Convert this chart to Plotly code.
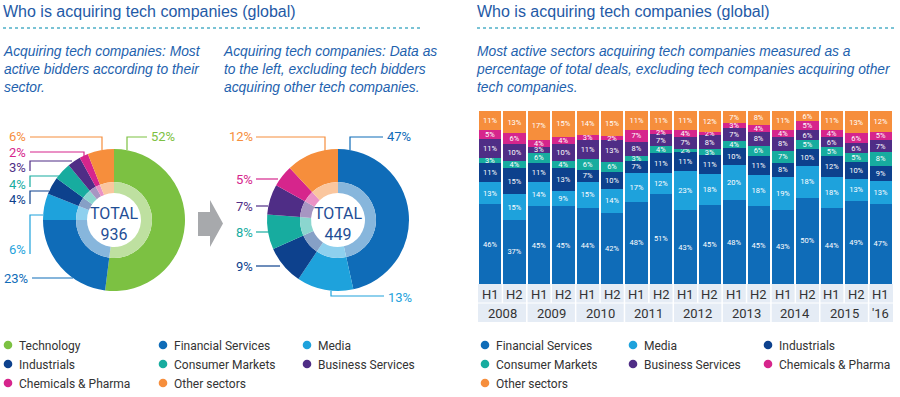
import plotly.graph_objects as go

W, H = 900, 397

# ---------------- data ----------------
all_labels = ["Technology", "Financial Services", "Media", "Industrials",
              "Consumer Markets", "Business Services", "Chemicals & Pharma", "Other sectors"]
all_values = [52, 23, 6, 4, 4, 3, 2, 6]
all_total = 936

excl_labels = ["Financial Services", "Media", "Industrials", "Consumer Markets",
               "Business Services", "Chemicals & Pharma", "Other sectors"]
excl_values = [47, 13, 9, 8, 7, 5, 12]
excl_total = 449

periods = ["2008 H1", "2008 H2", "2009 H1", "2009 H2", "2010 H1", "2010 H2",
           "2011 H1", "2011 H2", "2012 H1", "2012 H2", "2013 H1", "2013 H2",
           "2014 H1", "2014 H2", "2015 H1", "2015 H2", "2016 H1"]
half_labels = ["H1", "H2"] * 8 + ["H1"]
year_labels = ["2008", "2009", "2010", "2011", "2012", "2013", "2014", "2015", "'16"]

fin = [46, 37, 45, 45, 44, 42, 48, 51, 43, 45, 48, 45, 43, 50, 44, 49, 47]
media = [13, 15, 14, 9, 15, 14, 17, 12, 23, 18, 20, 18, 19, 18, 18, 13, 13]
ind = [11, 15, 11, 13, 7, 10, 7, 11, 11, 11, 10, 11, 8, 10, 12, 10, 9]
cons = [3, 4, 6, 4, 6, 6, 3, 4, 2, 3, 4, 6, 7, 5, 5, 5, 8]
bus = [11, 10, 3, 10, 11, 13, 8, 7, 7, 8, 7, 8, 8, 6, 6, 6, 7]
chem = [5, 6, 4, 4, 3, 2, 7, 2, 4, 2, 3, 4, 4, 5, 4, 6, 5]
other = [11, 13, 17, 15, 14, 15, 11, 11, 11, 12, 7, 8, 11, 6, 11, 13, 12]

bar_series = [("Financial Services", fin), ("Media", media), ("Industrials", ind),
              ("Consumer Markets", cons), ("Business Services", bus),
              ("Chemicals & Pharma", chem), ("Other sectors", other)]

# ---------------- styles ----------------
COL = {
    "Technology": "#7cc142",
    "Financial Services": "#0f6cb8",
    "Media": "#1ea2dc",
    "Industrials": "#0d418d",
    "Consumer Markets": "#17ac9f",
    "Business Services": "#4f2d86",
    "Chemicals & Pharma": "#d6258c",
    "Other sectors": "#f68e3c",
}
TITLE_C = "#1f5aa6"
SUB_C = "#1e62ae"
NARROW = "Roboto, Liberation Sans, sans-serif"
SANS = "Liberation Sans, Arial, sans-serif"


def tint(hexc, f=0.5):
    hexc = hexc.lstrip("#")
    r, g, b = (int(hexc[i:i + 2], 16) for i in (0, 2, 4))
    r, g, b = (round(c + (255 - c) * f) for c in (r, g, b))
    return "#%02x%02x%02x" % (r, g, b)


def px(x, y):
    return x / W, 1 - y / H


def dom(cx, cy, r):
    return dict(x=[(cx - r) / W, (cx + r) / W], y=[1 - (cy + r) / H, 1 - (cy - r) / H])


fig = go.Figure()

# ---------------- donuts ----------------
for labels, values, cx in [(all_labels, all_values, 114), (excl_labels, excl_values, 338)]:
    cy = 220
    fig.add_trace(go.Pie(labels=labels, values=values, sort=False, direction="clockwise",
                         rotation=0, hole=38 / 71, domain=dom(cx, cy, 71),
                         marker=dict(colors=[COL[l] for l in labels], line=dict(width=0)),
                         textinfo="none", hoverinfo="label+percent", showlegend=False))
    fig.add_trace(go.Pie(labels=labels, values=values, sort=False, direction="clockwise",
                         rotation=0, hole=27 / 38, domain=dom(cx, cy, 38),
                         marker=dict(colors=[tint(COL[l], 0.5) for l in labels], line=dict(width=0)),
                         textinfo="none", hoverinfo="skip", showlegend=False))

# ---------------- stacked bars ----------------
for name, vals in bar_series:
    fig.add_trace(go.Bar(x=periods, y=vals, name=name, marker=dict(color=COL[name], line=dict(width=0)),
                         text=vals, texttemplate="%{text}%", textposition="inside",
                         insidetextanchor="middle", textangle=0, constraintext="none",
                         textfont=dict(family=NARROW, size=7.5, color="white"),
                         showlegend=False, hovertemplate=name + " %{x}: %{text}%<extra></extra>"))

shapes = []
ann = []


def text(x, y, s, size=13, color="#333", family=NARROW, xanchor="left", yanchor="middle", align="left"):
    X, Y = px(x, y)
    ann.append(dict(x=X, y=Y, xref="paper", yref="paper", text=s, showarrow=False,
                    xanchor=xanchor, yanchor=yanchor, align=align, borderpad=0, borderwidth=0,
                    font=dict(size=size, color=color, family=family)))


def path(points, color, width=1.2):
    d = ""
    for i, (x, y) in enumerate(points):
        X, Y = px(x, y)
        d += ("M" if i == 0 else "L") + f"{X:.5f},{Y:.5f} "
    shapes.append(dict(type="path", path=d.strip(), xref="paper", yref="paper",
                       line=dict(color=color, width=width)))


# titles
for x0, x1 in [(3, 423), (477, 897)]:
    text(x0, 12, "Who is acquiring tech companies (global)", size=16, color=TITLE_C, family=SANS)
    X0, Y0 = px(x0, 28)
    X1, _ = px(x1, 28)
    shapes.append(dict(type="line", xref="paper", yref="paper", x0=X0, x1=X1, y0=Y0, y1=Y0,
                       line=dict(color="#4fb0c8", width=1.5, dash="dot")))

text(3, 69, "<i>Acquiring tech companies: Most<br>active bidders according to their<br>sector.</i>",
     size=13.8, color=SUB_C, family=SANS)
text(223, 69, "<i>Acquiring tech companies: Data as<br>to the left, excluding tech bidders<br>acquiring other tech companies.</i>",
     size=13.8, color=SUB_C, family=SANS)
text(476, 69, "<i>Most active sectors acquiring tech companies measured as a<br>percentage of total deals, excluding tech companies acquiring other<br>tech companies.</i>",
     size=13.8, color=SUB_C, family=SANS)

# totals in donuts
text(114, 224, f"TOTAL<br>{all_total}", size=16, color="#1f4e96", xanchor="center", align="center")
text(338, 224, f"TOTAL<br>{excl_total}", size=16, color="#1f4e96", xanchor="center", align="center")

# left donut labels
lv = dict(zip(all_labels, all_values))
left_specs = [
    ("Other sectors", 26, 137, [(30, 137), (102, 137), (102, 150)]),
    ("Chemicals & Pharma", 26, 152, [(30, 152), (84, 152), (84, 157)]),
    ("Business Services", 26, 168, [(30, 171), (30, 161), (72, 161)]),
    ("Consumer Markets", 26, 184, [(30, 187), (30, 176), (59, 176)]),
    ("Industrials", 26, 199, [(30, 204), (30, 191), (49, 191)]),
    ("Media", 26, 249, [(30, 254), (30, 215), (43, 215)]),
    ("Financial Services", 28, 278, [(32, 278), (73, 278)]),
]
for name, tx, ty, pts in left_specs:
    text(tx, ty, f"{lv[name]}%", size=13, color=COL[name], xanchor="right")
    path(pts, COL[name])
text(151, 137, f"{lv['Technology']}%", size=13, color=COL["Technology"])
path([(147, 137), (127, 137), (127, 150)], COL["Technology"])

# right donut labels
rv = dict(zip(excl_labels, excl_values))
right_specs = [
    ("Other sectors", 253, 137, [(256, 137), (325, 137), (325, 151)]),
    ("Chemicals & Pharma", 253, 179, [(256, 179), (278, 179)]),
    ("Business Services", 253, 206, [(256, 206), (268, 206)]),
    ("Consumer Markets", 253, 232, [(256, 232), (268, 232)]),
    ("Industrials", 253, 266, [(256, 266), (280, 266)]),
]
for name, tx, ty, pts in right_specs:
    text(tx, ty, f"{rv[name]}%", size=13, color=COL[name], xanchor="right")
    path(pts, COL[name])
text(387, 137, f"{rv['Financial Services']}%", size=13, color=COL["Financial Services"])
path([(383, 137), (350, 137), (350, 150)], COL["Financial Services"])
text(388, 297, f"{rv['Media']}%", size=13, color=COL["Media"])
path([(331, 291), (331, 296), (384, 296)], COL["Media"])

# arrow between donuts
pts = [(198, 212), (210, 212), (210, 200), (223, 223.5), (210, 247), (210, 236), (198, 236)]
d = ""
for i, (x, y) in enumerate(pts):
    X, Y = px(x, y)
    d += ("M" if i == 0 else "L") + f"{X:.5f},{Y:.5f} "
shapes.append(dict(type="path", path=d + "Z", xref="paper", yref="paper",
                   fillcolor="#a7a9ac", line=dict(width=0)))

# bar category labels area
_, yb = px(0, 284)
_, ym = px(0, 303)
_, yt = px(0, 322)
shapes.append(dict(type="rect", xref="x", yref="paper", x0=-0.5, x1=len(periods) - 0.5,
                   y0=yt, y1=yb, fillcolor="#e5ecf5", line=dict(width=0), layer="below"))
for i in range(len(periods) - 1):
    shapes.append(dict(type="line", xref="x", yref="paper", x0=i + 0.5, x1=i + 0.5, y0=ym, y1=yb,
                       line=dict(color="white", width=1.5)))
for k in range(len(year_labels) - 1):
    xx = 2 * k + 1.5
    shapes.append(dict(type="line", xref="x", yref="paper", x0=xx, x1=xx, y0=yt, y1=ym,
                       line=dict(color="white", width=1.5)))
shapes.append(dict(type="line", xref="x", yref="paper", x0=-0.5, x1=len(periods) - 0.5, y0=ym, y1=ym,
                   line=dict(color="white", width=1)))

_, yh = px(0, 294)
_, yy = px(0, 313)
for i, h in enumerate(half_labels):
    ann.append(dict(x=i, y=yh, xref="x", yref="paper", text=h, showarrow=False,
                    xanchor="center", yanchor="middle",
                    font=dict(family=NARROW, size=13, color="#333")))
for k, yl in enumerate(year_labels):
    xx = 2 * k + 0.5 if 2 * k + 1 < len(periods) else 2 * k
    ann.append(dict(x=xx, y=yy, xref="x", yref="paper", text=yl, showarrow=False,
                    xanchor="center", yanchor="middle",
                    font=dict(family=NARROW, size=13, color="#333")))


# legends (manual, circle markers)
def legend(names, dot_x, txt_x, rows_y):
    for idx, name in enumerate(names):
        r, c = divmod(idx, 3)
        cx, cy = dot_x[c], rows_y[r]
        X0, Y0 = px(cx - 4.3, cy - 4.3)
        X1, Y1 = px(cx + 4.3, cy + 4.3)
        shapes.append(dict(type="circle", xref="paper", yref="paper", x0=X0, x1=X1, y0=Y1, y1=Y0,
                           fillcolor=COL[name], line=dict(width=0)))
        text(txt_x[c], cy + 0.5, name, size=12, color="#333")


legend(all_labels, [8, 163, 307], [19, 174, 318], [345, 364, 383])
legend(excl_labels, [485, 633, 768], [496, 644, 779], [345, 364, 383])

fig.update_layout(
    width=W, height=H, margin=dict(l=0, r=0, t=0, b=0),
    paper_bgcolor="white", plot_bgcolor="white",
    barmode="stack", barnorm="percent", bargap=0.08,
    xaxis=dict(type="category", domain=[478 / W, 893 / W], range=[-0.5, len(periods) - 0.5],
               showticklabels=False, showgrid=False, zeroline=False, showline=False, ticks="", fixedrange=True),
    yaxis=dict(domain=[1 - 284 / H, 1 - 111 / H], range=[0, 100], visible=False, fixedrange=True),
    shapes=shapes, annotations=ann, showlegend=False,
)

fig.write_html("out.html", config={"displayModeBar": False},
               post_script="document.body.style.margin='0';document.body.style.overflow='hidden';")
